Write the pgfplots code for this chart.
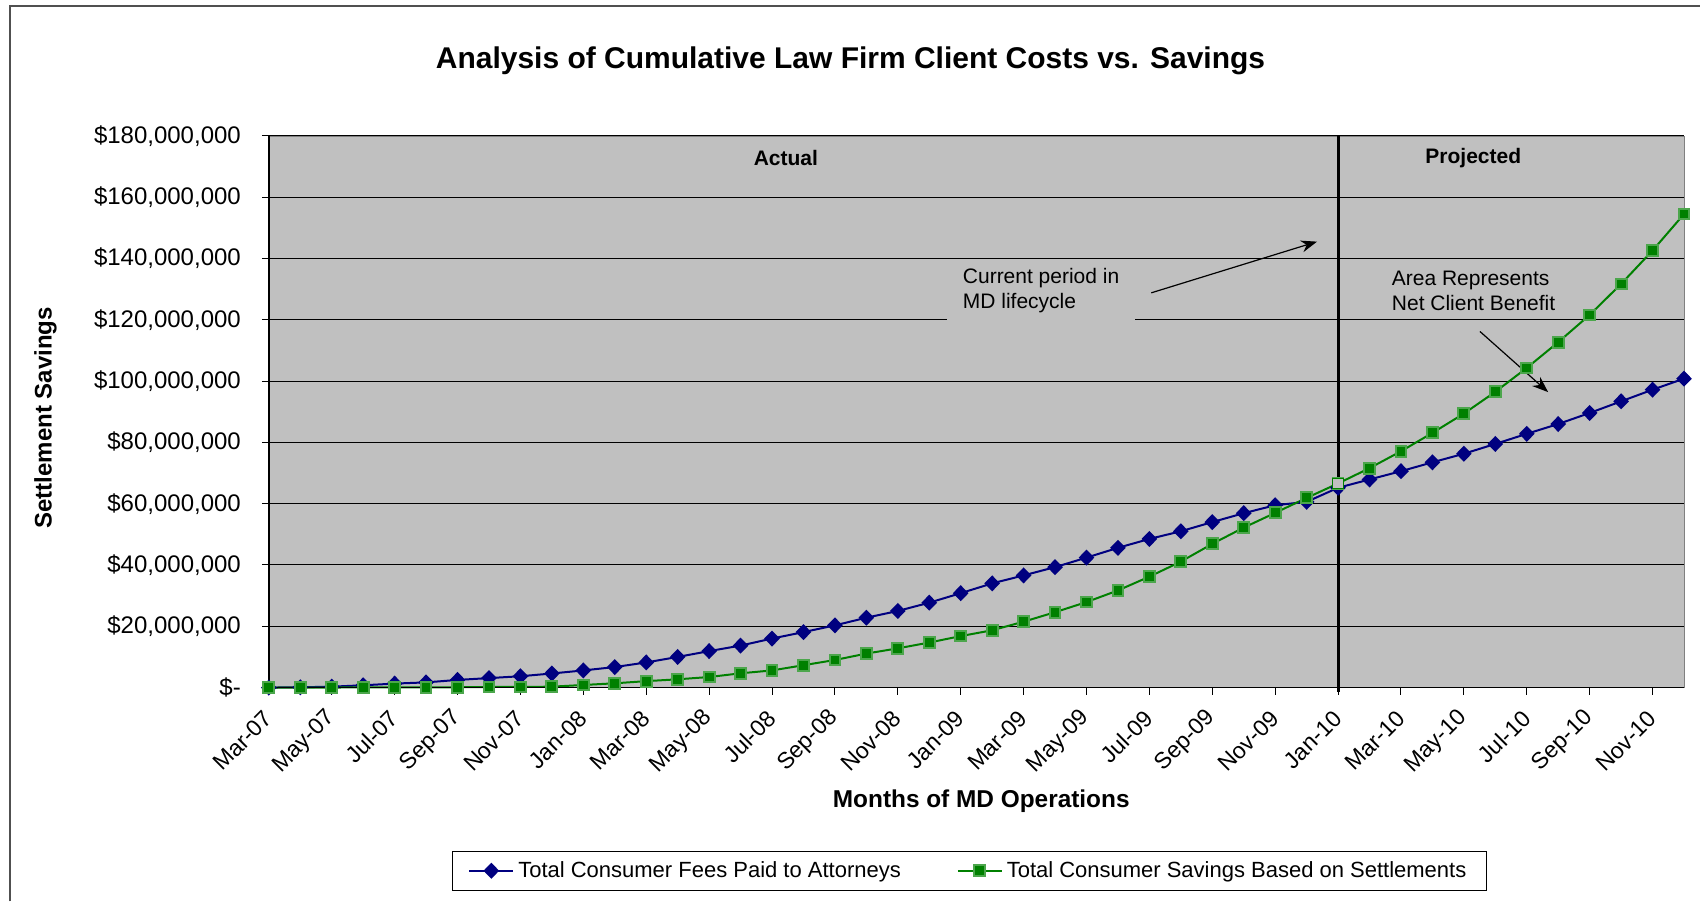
\documentclass[border=0pt]{standalone}
\usepackage{fontspec}
\setmainfont{Liberation Sans}
\usepackage{pgfplots}
\pgfplotsset{compat=1.18}
\usepackage{pgfplotstable}
\usetikzlibrary{arrows.meta}

\definecolor{plotgray}{HTML}{C0C0C0}
\definecolor{navy}{HTML}{000080}
\definecolor{grn}{HTML}{008000}
\definecolor{framegray}{HTML}{505050}

% month index (0 = Mar-07), values in millions of dollars
\pgfplotstableread{
i   fees   savings
0   0.0    0.0
1   0.1    0.0
2   0.3    0.0
3   0.75   0.1
4   1.3    0.1
5   1.7    0.1
6   2.5    0.1
7   3.1    0.2
8   3.7    0.2
9   4.6    0.3
10  5.6    0.85
11  6.7    1.4
12  8.2    2.1
13  10.0   2.7
14  11.9   3.45
15  13.7   4.66
16  16.0   5.6
17  18.1   7.3
18  20.3   9.0
19  22.8   11.1
20  25.0   12.8
21  27.7   14.7
22  30.8   16.8
23  34.0   18.7
24  36.6   21.5
25  39.3   24.6
26  42.4   27.9
27  45.6   31.7
28  48.5   36.2
29  51.0   41.1
30  54.0   46.9
31  56.9   52.2
32  59.5   57.0
33  60.6   61.9
34  65.2   66.6
35  67.9   71.6
36  70.6   77.1
37  73.5   83.1
38  76.3   89.4
39  79.5   96.5
40  82.8   104.3
41  86.0   112.7
42  89.6   121.6
43  93.4   131.7
44  97.2   142.6
45  100.8  154.5
}\datatable

\begin{document}
\begin{tikzpicture}
% page extent and outer chart frame (left and top edges show)
\path (0,0) rectangle (850.5pt,451pt);
\draw[framegray, line width=1pt] (5pt,0pt) -- (5pt,448pt) -- (850.5pt,448pt);

\node[font=\fontsize{15}{17}\selectfont\bfseries] at (425.5pt,420.5pt)
  {Analysis of Cumulative Law Firm Client Costs vs. Savings};
\node[font=\fontsize{12}{14}\selectfont\bfseries, rotate=90] at (22.8pt,242pt)
  {Settlement Savings};
\node[font=\fontsize{12.2}{14}\selectfont\bfseries] at (490.9pt,50.3pt)
  {Months of MD Operations};

\begin{axis}[
    at={(134.5pt,107pt)}, anchor=south west,
    scale only axis,
    width=708pt, height=276pt,
    xmin=0, xmax=45, ymin=0, ymax=180,
    axis background/.style={fill=plotgray},
    axis line style={gray},
    xtick={0,2,...,44},
    xticklabels={Mar-07,May-07,Jul-07,Sep-07,Nov-07,Jan-08,Mar-08,May-08,Jul-08,Sep-08,Nov-08,Jan-09,Mar-09,May-09,Jul-09,Sep-09,Nov-09,Jan-10,Mar-10,May-10,Jul-10,Sep-10,Nov-10},
    ytick={0,20,...,180},
    yticklabels={\$-,{\$20,000,000},{\$40,000,000},{\$60,000,000},{\$80,000,000},{\$100,000,000},{\$120,000,000},{\$140,000,000},{\$160,000,000},{\$180,000,000}},
    tick pos=left,
    tick align=outside,
    major tick length=3.5pt,
    tick style={black, line width=0.5pt},
    ymajorgrids,
    grid style={black, line width=0.5pt},
    xticklabel style={font=\fontsize{11.5}{13}\selectfont, rotate=45, anchor=east, xshift=-3.8pt, yshift=-7pt},
    yticklabel style={font=\fontsize{12}{14}\selectfont, xshift=-7pt},
    legend style={at={(0.495,-0.332)}, anchor=center, legend columns=2,
        draw=black, fill=white, font=\fontsize{11}{13}\selectfont,
        inner xsep=8pt, inner ysep=3pt,
        /tikz/every even column/.append style={column sep=26pt}},
    legend image code/.code={\draw[mark repeat=2,mark phase=2,#1]
        plot coordinates {(0pt,0pt)(11pt,0pt)(22pt,0pt)};},
    clip=false,
]
\addplot[navy, line width=1pt, mark=diamond*, mark size=3.3pt,
    mark options={xscale=1.3, fill=navy, draw=navy}]
    table[x=i, y=fees] {\datatable};
\addlegendentry{Total Consumer Fees Paid to Attorneys}
\addplot[grn, line width=1pt, mark=square*, mark size=2.7pt,
    mark options={fill=grn, draw=grn!70!white}]
    table[x=i, y=savings] {\datatable};
\addlegendentry{Total Consumer Savings Based on Settlements}
\addplot[only marks, mark=square*, mark size=2.7pt,
    mark options={fill=plotgray, draw=grn}, forget plot]
    coordinates {(34,66.6)};

% axis edges
\draw[black, line width=0.7pt] (0,180) -- (0,0) -- (45,0);
% current period divider
\draw[black, line width=1.5pt] (34,180) -- (34,-1.5);

\node[font=\fontsize{10.5}{12}\selectfont\bfseries] at (16.44,172.7) {Actual};
\node[font=\fontsize{10.5}{12}\selectfont\bfseries] at (38.3,172.7) {Projected};

\node[anchor=west, fill=plotgray, align=left, inner xsep=8pt, inner ysep=5pt,
    font=\fontsize{10.5}{12.5}\selectfont] at (21.55,129.4)
    {Current period in\\MD lifecycle};
\draw[black, line width=0.6pt, -{Stealth[length=8pt,width=6pt]}]
    (28.06,128.8) -- (33.33,145.5);

\node[anchor=west, align=left, inner sep=0pt,
    font=\fontsize{10.5}{12.5}\selectfont] at (35.7,129.4)
    {Area Represents\\Net Client Benefit};
\draw[black, line width=0.6pt, -{Stealth[length=8pt,width=6pt]}]
    (38.51,116.2) -- (40.68,96.4);
\end{axis}
\end{tikzpicture}
\end{document}
